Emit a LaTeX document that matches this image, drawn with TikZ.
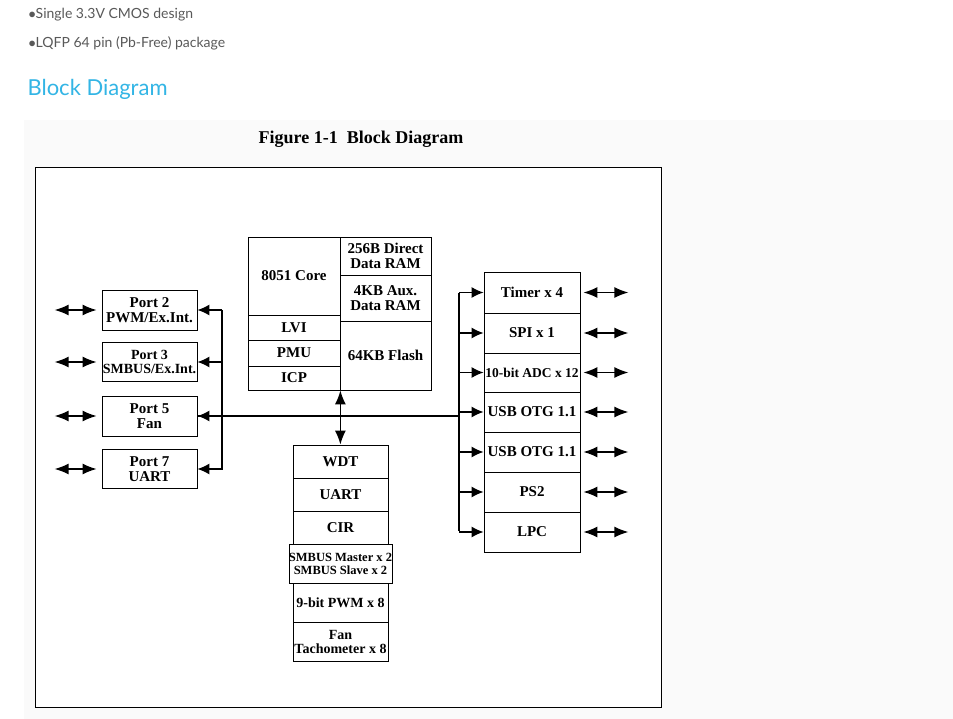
\documentclass[tikz,border=0pt]{standalone}
\usepackage{fontspec}
\setmainfont{Liberation Serif}
\newfontfamily\uisans{Lato}
\usetikzlibrary{arrows.meta}
\definecolor{hdr}{HTML}{33B5E5}
\begin{document}
\begin{tikzpicture}[x=1pt,y=-1pt,
  bx/.style={draw,line width=0.8pt,inner sep=0pt,align=center,font=\fontsize{15}{15}\selectfont\bfseries},
  ar/.style={line width=1.4pt,-{Latex[length=12pt,width=11pt]}},
  dar/.style={line width=1.4pt,{Latex[length=14pt,width=11pt]}-{Latex[length=14pt,width=11pt]}}]
\useasboundingbox (0,0) rectangle (953,719);
\fill[white] (0,0) rectangle (953,719);
\fill[black!2] (24,120) rectangle (953,719);
\node[anchor=west,text=black!65,font=\uisans\fontsize{14}{15}\selectfont] (t1) at (25,15) {$\bullet$Single 3.3V CMOS design};
\node[anchor=west,text=black!65,font=\uisans\fontsize{14}{15}\selectfont] (t2) at (25,43) {$\bullet$LQFP 64 pin (Pb-Free) package};
\node[anchor=west,text=hdr,font=\uisans\fontsize{22}{24}\selectfont] (hd) at (24,89) {Block Diagram};
\node[font=\fontsize{18}{18}\selectfont\bfseries] (fig) at (361,139) {Figure 1-1\ \ Block Diagram};
\draw[line width=0.8pt,fill=white] (35,167) rectangle (661,707);
% core
\node[bx,minimum width=92,minimum height=78] (core) at (294,276) {8051 Core};
\node[bx,minimum width=92,minimum height=25] (lvi) at (294,327.5) {LVI};
\node[bx,minimum width=92,minimum height=26] (pmu) at (294,353) {PMU};
\node[bx,minimum width=92,minimum height=24] (icp) at (294,378) {ICP};
\node[bx,minimum width=91,minimum height=38] (ram) at (385.5,256) {256B Direct\\Data RAM};
\node[bx,minimum width=91,minimum height=46] (aux) at (385.5,298) {4KB Aux.\\Data RAM};
\node[bx,minimum width=91,minimum height=69] (fl) at (385.5,355.5) {64KB Flash};
% ports
\node[bx,minimum width=95,minimum height=40] (p2) at (149.5,310) {Port 2\\PWM/Ex.Int.};
\node[bx,minimum width=95,minimum height=39,font=\fontsize{14}{14}\selectfont\bfseries] (p3) at (149.5,362) {Port 3\\SMBUS/Ex.Int.};
\node[bx,minimum width=95,minimum height=40] (p5) at (149.5,416) {Port 5\\Fan};
\node[bx,minimum width=95,minimum height=39] (p7) at (149.5,469) {Port 7\\UART};
% bottom
\node[bx,minimum width=95,minimum height=33] (wdt) at (340.5,461.5) {WDT};
\node[bx,minimum width=95,minimum height=33] (uart) at (340.5,494.5) {UART};
\node[bx,minimum width=95,minimum height=33] (cir) at (340.5,527.5) {CIR};
\node[bx,minimum width=95,minimum height=39,font=\fontsize{12.5}{13}\selectfont\bfseries] (smb) at (340.5,563.5) {SMBUS Master x 2\\SMBUS Slave x 2};
\node[bx,minimum width=95,minimum height=39,font=\fontsize{14}{14}\selectfont\bfseries] (pwm) at (340.5,602.5) {9-bit PWM x 8};
\node[bx,minimum width=95,minimum height=39,font=\fontsize{14}{14}\selectfont\bfseries] (fan) at (340.5,641.5) {Fan\\Tachometer x 8};
% right
\node[bx,minimum width=96,minimum height=41] (tim) at (532,292.5) {Timer x 4};
\node[bx,minimum width=96,minimum height=40] (spi) at (532,333) {SPI x 1};
\node[bx,minimum width=96,minimum height=39,font=\fontsize{13.5}{14}\selectfont\bfseries] (adc) at (532,372.5) {10-bit ADC x 12};
\node[bx,minimum width=96,minimum height=40] (usb1) at (532,412) {USB OTG 1.1};
\node[bx,minimum width=96,minimum height=40] (usb2) at (532,452) {USB OTG 1.1};
\node[bx,minimum width=96,minimum height=40] (ps2) at (532,492) {PS2};
\node[bx,minimum width=96,minimum height=40] (lpc) at (532,532) {LPC};
% buses
\coordinate (lt) at (222,310); \coordinate (lb) at (222,470);
\coordinate (rt) at (459,293); \coordinate (rb) at (459,531);
\draw[line width=1.4pt] (lt) -- (lb);
\draw[line width=1.4pt] (rt) -- (rb);
\draw[line width=1.4pt] (p5.east) -- (rb |- p5.east);
\foreach \n in {p2,p3,p5,p7} \draw[ar] (lt |- \n.east) -- (\n.east);
\foreach \n in {tim,spi,adc,usb1,usb2,ps2,lpc} \draw[ar] (rt |- \n.west) -- (\n.west);
\draw[dar] (lvi.south east |- icp.south) -- (wdt.north -| lvi.south east);
\foreach \n in {p2,p3,p5,p7} {\coordinate (e\n) at ([xshift=-47]\n.west); \draw[dar] (e\n) -- ([xshift=-5]\n.west);}
\foreach \n in {tim,spi,adc,usb1,usb2,ps2,lpc} {\coordinate (e\n) at ([xshift=48]\n.east); \draw[dar] ([xshift=3]\n.east) -- (e\n);}
\end{tikzpicture}
\end{document}
